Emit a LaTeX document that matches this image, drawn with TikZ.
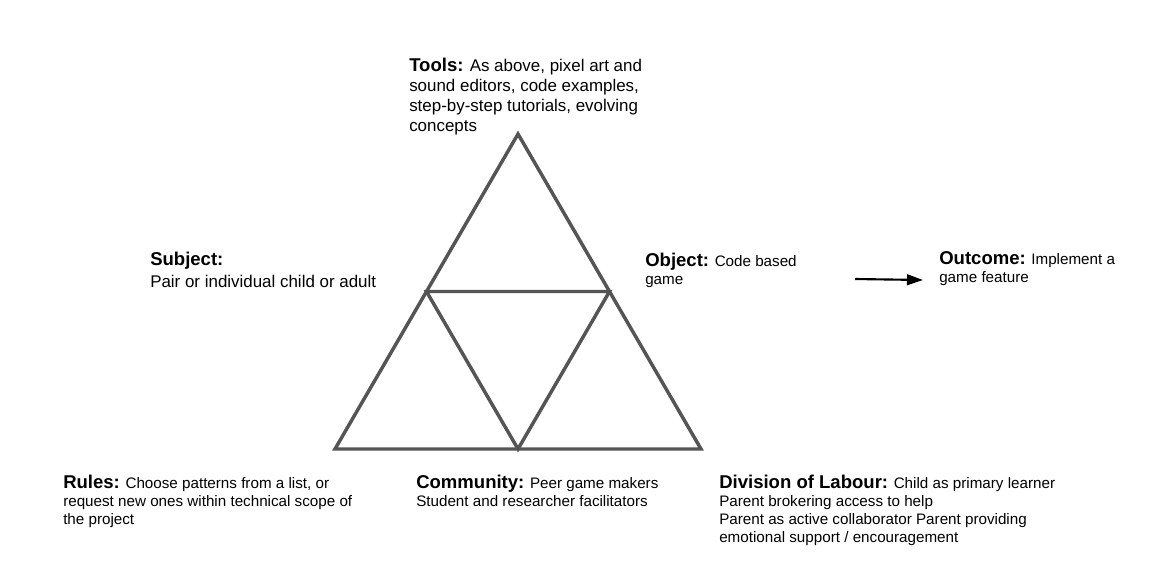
\documentclass[tikz,border=0pt]{standalone}
\usepackage{fontspec}
\setmainfont{Liberation Sans}
\usepackage{xcolor}
\usetikzlibrary{arrows.meta, positioning, calc}
\definecolor{edgegray}{RGB}{85, 85, 85}

\newcommand{\headfont}{\fontsize{13.9}{17}\selectfont\bfseries}
\newcommand{\bigbody}{\fontsize{12.7}{15}\selectfont}
\newcommand{\smallbody}{\fontsize{11.4}{13.6}\selectfont}

\begin{document}
\begin{tikzpicture}[x=0.75pt, y=-0.75pt,
    element/.style={anchor=north west, inner sep=0pt, align=left},
    tri/.style={draw=edgegray, line width=2.6pt, line join=miter}]
    \useasboundingbox (0,0) rectangle (1159,576);

    % Triangle
    \coordinate (apex) at (518,134);
    \coordinate (botleft) at (335,449);
    \coordinate (botright) at (701,449);
    \coordinate (midleft) at ($(apex)!0.5!(botleft)$);
    \coordinate (midright) at ($(apex)!0.5!(botright)$);
    \coordinate (botmid) at ($(botleft)!0.5!(botright)$);
    \draw[tri] (apex) -- (botleft) -- (botright) -- cycle;
    \draw[tri] (midleft) -- (midright) -- (botmid) -- cycle;

    % Top and middle row
    \node[element, font=\bigbody] (tools) at (409,57.5)
        {{\headfont Tools:} As above, pixel art and\\ sound editors, code examples,\\ step-by-step tutorials, evolving\\ concepts};
    \node[element, font=\bigbody] (subject) at (150,251.5)
        {{\headfont Subject:}\\[1.5pt] Pair or individual child or adult};
    \node[element, font=\smallbody] (object) at (645,252.5)
        {{\headfont Object:} Code based\\ game};
    \node[element, font=\smallbody] (outcome) at (939,251.5)
        {{\headfont Outcome:} Implement a\\ game feature};

    % Bottom row
    \node[element, font=\smallbody] (rules) at (63,474.5)
        {{\headfont Rules:} Choose patterns from a list, or\\ request new ones within technical scope of\\ the project};
    \node[element, font=\smallbody] (community) at (416,474.5)
        {{\headfont Community:} Peer game makers\\ Student and researcher facilitators};
    \node[element, font=\smallbody] (division) at (719,474.5)
        {{\headfont Division of Labour:} Child as primary learner\\ Parent brokering access to help\\ Parent as active collaborator Parent providing\\ emotional support / encouragement};

    % Arrow to outcome
    \coordinate (arrowtail) at (855,279);
    \coordinate (arrowtip) at (923,280);
    \draw[line width=1.6pt, -{Triangle[length=12pt, width=8pt]}] (arrowtail) -- (arrowtip);
\end{tikzpicture}
\end{document}
